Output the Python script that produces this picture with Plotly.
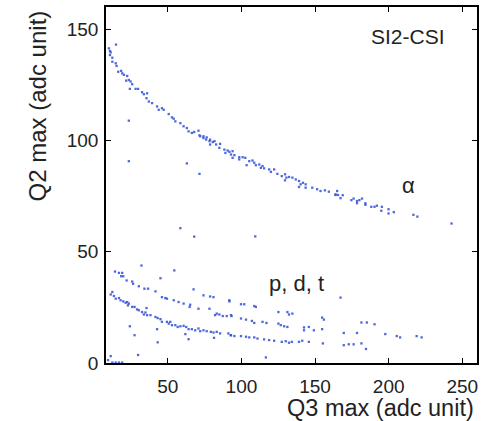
import plotly.graph_objects as go

# ---- data (Q3 max, Q2 max in adc units) ----
alpha_x = [14.8, 10.0, 10.7, 11.2, 10.7, 12.3, 12.3, 14.6, 15.2, 16.3, 18.3, 19.0, 20.2, 22.4, 21.7,
           23.5, 24.7, 25.8, 24.2, 28.1, 29.8, 32.5, 33.7, 35.9, 35.5, 37.1, 39.3, 42.7, 43.8, 46.0,
           47.2, 50.6, 52.8, 54.0, 55.1, 58.5, 60.7, 62.9, 64.1, 66.3, 67.9, 70.8, 71.5, 74.2, 76.4,
           78.7, 72.0, 74.2, 76.0, 78.3, 80.5, 81.7, 78.7, 82.8, 85.5, 85.0, 88.4, 90.6, 89.1, 91.8,
           94.0, 92.9, 95.2, 94.0, 98.5, 100.8, 98.5, 102.6, 105.3, 107.5, 108.7, 103.5, 109.8, 112.1,
           113.2, 114.3, 115.4, 118.8, 120.0, 122.2, 124.4, 127.4, 129.6, 130.5, 132.3, 129.6, 134.6,
           136.9, 139.1, 140.2, 141.8, 143.6, 139.1, 143.6, 148.1, 151.4, 153.7, 156.7, 159.4, 163.9,
           165.0, 165.6, 163.9, 168.8, 167.3, 174.7, 176.2, 178.5, 180.1, 181.9, 178.5, 184.2, 184.2,
           188.2, 190.4, 192.0, 195.4, 195.0, 199.9, 199.9, 203.5, 216.8, 219.5, 242.7]
alpha_y = [143.1, 141.4, 140.2, 139.6, 138.4, 137.2, 135.4, 134.7, 133.5, 130.9, 131.3, 130.2, 129.5,
           129.0, 126.9, 127.2, 126.5, 125.3, 123.2, 123.2, 123.2, 121.7, 120.8, 121.2, 119.0, 117.5,
           116.8, 115.3, 113.8, 114.5, 113.8, 111.9, 110.4, 109.8, 108.6, 107.8, 106.4, 105.6, 104.1,
           103.4, 103.8, 104.4, 102.3, 101.1, 101.4, 100.4, 101.9, 101.9, 100.4, 99.7, 99.3, 99.7,
           98.2, 98.2, 98.5, 96.7, 95.9, 95.5, 94.4, 94.9, 95.2, 93.7, 93.4, 92.2, 92.5, 92.5, 91.5,
           92.2, 90.7, 91.0, 90.0, 88.9, 88.9, 89.2, 87.7, 88.5, 87.5, 87.0, 85.9, 87.0, 85.0, 84.0,
           84.8, 83.3, 83.6, 82.1, 83.3, 82.5, 81.8, 80.3, 81.0, 80.3, 79.1, 78.8, 78.8, 78.1, 77.3,
           77.6, 77.0, 75.8, 77.3, 75.5, 75.5, 75.4, 74.1, 73.2, 73.9, 72.8, 73.2, 73.9, 71.8, 71.8,
           71.1, 70.2, 70.2, 70.7, 70.2, 68.4, 69.1, 67.2, 67.8, 66.6, 65.8, 62.7]

pdt_x = [11.2, 14.1, 16.8, 19.0, 18.3, 19.7, 22.0, 25.8, 26.4, 30.3, 34.1, 36.6, 41.6, 46.0, 48.3,
         49.4, 54.0, 57.3, 60.7, 65.2, 64.8, 70.8, 78.3, 81.0, 83.2, 82.1, 85.0, 87.3, 90.0, 93.3,
         91.8, 99.7, 101.9, 108.7, 109.8, 125.1, 131.2, 134.6, 132.3, 154.8, 156.0, 181.5, 185.2, 190.4,
         12.3, 13.4, 14.6, 16.8, 17.9, 19.7, 21.3, 22.4, 23.5, 22.9, 25.8, 27.4, 29.1, 30.3, 32.5,
         34.8, 33.7, 35.9, 35.5, 38.2, 41.6, 43.1, 45.0, 46.0, 49.4, 50.6, 51.7, 52.8, 55.1, 56.7,
         58.5, 60.7, 62.5, 64.1, 66.3, 68.6, 70.8, 72.0, 74.2, 76.4, 79.2, 81.0, 83.2, 85.5, 91.1,
         92.7, 92.9, 99.7, 103.1, 107.1, 108.7, 114.3, 117.0, 125.1, 126.7, 129.0, 131.2, 142.5, 145.8,
         142.5, 149.2, 154.8, 169.5, 178.5, 197.7, 205.5, 207.8, 219.0, 222.4,
         92.9, 95.2, 99.7, 103.1, 105.3, 108.7, 110.9, 115.4, 118.8, 122.2, 127.4, 130.1, 132.3,
         134.2, 139.1, 141.3, 145.8, 155.3, 169.5, 172.9, 176.2, 181.5, 184.6]
pdt_y = [30.8, 41.1, 40.5, 40.5, 39.0, 39.0, 37.1, 36.6, 35.6, 34.5, 33.4, 33.4, 32.2, 29.6, 29.2,
         28.9, 28.2, 27.4, 26.7, 26.2, 25.2, 24.4, 24.4, 29.6, 22.2, 21.5, 21.8, 21.1, 21.1, 21.1,
         28.2, 26.4, 26.4, 25.6, 25.2, 22.9, 22.9, 22.2, 21.8, 20.4, 19.5, 18.2, 18.2, 17.4,
         31.9, 30.1, 28.9, 29.2, 28.2, 27.7, 27.1, 27.4, 26.7, 25.9, 25.2, 25.2, 24.1, 23.7, 22.9,
         22.7, 21.8, 21.5, 24.7, 21.5, 20.7, 20.2, 19.7, 18.5, 18.5, 17.7, 18.5, 17.0, 17.0, 16.2,
         16.5, 16.7, 16.2, 15.2, 15.2, 14.7, 15.5, 14.3, 14.7, 14.3, 14.0, 13.7, 14.0, 13.3, 13.3,
         12.5, 21.5, 20.0, 19.5, 18.9, 18.0, 18.5, 18.0, 17.7, 17.0, 16.5, 16.2, 16.0, 16.2,
         14.7, 14.7, 15.2, 13.5, 13.5, 13.0, 12.1, 11.5, 12.1, 11.5,
         12.5, 12.1, 12.1, 11.8, 11.5, 11.5, 11.0, 10.6, 10.3, 10.0, 9.5, 9.8, 9.1,
         9.5, 9.5, 10.0, 9.5, 8.8, 8.0, 8.4, 8.4, 8.8, 6.3]

other_x = [23.5, 23.5, 62.9, 71.5, 58.5, 67.9, 109.4, 32.1, 45.0, 54.4, 67.5, 74.2, 78.7, 91.8,
           167.3, 24.2, 27.4, 42.7, 43.1, 61.9, 64.1, 81.4, 29.8, 11.2, 9.4, 12.3, 14.6, 16.8, 19.0,
           116.6]
other_y = [108.9, 90.7, 89.7, 85.0, 60.6, 56.8, 56.9, 43.8, 38.1, 41.6, 33.1, 30.4, 29.9, 27.7,
           29.4, 16.5, 12.5, 15.2, 9.3, 13.0, 10.7, 11.3, 3.6, 3.1, 1.3, 0.2, 0.2, 0.2, 0.2,
           2.5]

x_ticks = [50, 100, 150, 200, 250]
y_ticks = [0, 50, 100, 150]

# ---- figure ----
FONT = "Liberation Sans, Arial, sans-serif"
TXT = "#222222"
marker = dict(symbol="square", size=2.3, color="#2f4fd6", opacity=0.85, line=dict(width=0))

fig = go.Figure()
for xs, ys in ((alpha_x, alpha_y), (pdt_x, pdt_y), (other_x, other_y)):
    fig.add_trace(go.Scatter(x=xs, y=ys, mode="markers", marker=marker,
                             showlegend=False, hoverinfo="skip"))

axis_common = dict(showgrid=False, zeroline=False, showline=True, linecolor="black",
                   linewidth=1.5, mirror="ticks", ticks="inside", ticklen=5,
                   tickcolor="black", tickwidth=1,
                   tickfont=dict(family=FONT, size=19, color=TXT))

fig.update_layout(
    width=484, height=421,
    margin=dict(l=106, r=5, t=5, b=58),
    paper_bgcolor="white", plot_bgcolor="white",
    xaxis=dict(range=[8, 260], tickvals=x_ticks, ticklabelstandoff=5, **axis_common),
    yaxis=dict(range=[0, 160], tickvals=y_ticks, ticklabelstandoff=2, **axis_common),
    annotations=[
        dict(text="SI2-CSI", x=213.4, y=146.6, xref="x", yref="y", showarrow=False,
             font=dict(family=FONT, size=21, color=TXT)),
        dict(text="α", x=213.8, y=79.8, xref="x", yref="y", showarrow=False,
             font=dict(family=FONT, size=22, color=TXT)),
        dict(text="p, d, t", x=137.7, y=35.8, xref="x", yref="y", showarrow=False,
             font=dict(family=FONT, size=22, color=TXT)),
        dict(text="Q3 max (adc unit)", x=1.0, y=0, xref="paper", yref="paper",
             xanchor="right", yanchor="middle", yshift=-44.5, xshift=-1, showarrow=False,
             font=dict(family=FONT, size=23.5, color=TXT)),
        dict(text="Q2 max (adc unit)", x=0, y=0.7207, xref="paper", yref="paper",
             xanchor="center", yanchor="middle", xshift=-69, textangle=-90, showarrow=False,
             font=dict(family=FONT, size=24, color=TXT)),
    ],
)

fig.write_html(
    "out.html",
    config={"displayModeBar": False, "responsive": False},
    post_script="document.body.style.margin='0';document.body.style.overflow='hidden';"
                "document.documentElement.style.overflow='hidden';",
)
